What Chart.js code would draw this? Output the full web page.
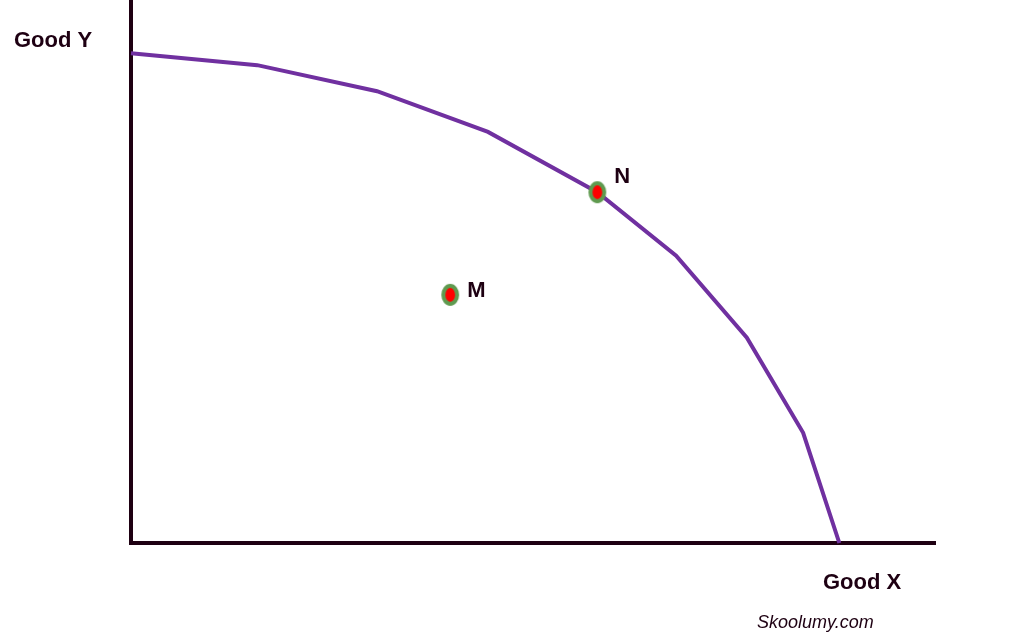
<!DOCTYPE html>
<html>
<head>
<meta charset="utf-8">
<script src="https://cdn.jsdelivr.net/npm/chart.js@4/dist/chart.umd.min.js"></script>
<style>
  html, body { margin: 0; padding: 0; background: #ffffff; }
  #wrap { width: 1024px; height: 644px; position: relative; }
</style>
</head>
<body>
<div id="wrap"><canvas id="c" width="1024" height="644"></canvas></div>
<script>
// Production possibility frontier (Good X quantity vs Good Y quantity)
const frontierX = [0, 15.7, 30.6, 44.4, 58.0, 67.8, 76.6, 83.6, 88.1];
const frontierY = [90.2, 88.0, 83.2, 75.7, 64.6, 52.9, 37.8, 20.3, 0];
const pointNames = ['M', 'N'];
const pointX = [39.7, 58.0];
const pointY = [45.7, 64.6];
const xAxisLabel = 'Good X';
const yAxisLabel = 'Good Y';
const credit = 'Skoolumy.com';

const AXIS_COLOR = '#1e0012';
const TEXT_COLOR = '#1e0012';

// ellipse marker
function makeMarker() {
  const c = document.createElement('canvas');
  c.width = 20; c.height = 24;
  const g = c.getContext('2d');
  g.beginPath();
  g.ellipse(10, 12, 6.9, 8.9, 0, 0, Math.PI * 2);
  g.fillStyle = '#ff0000';
  g.fill();
  g.lineWidth = 4;
  g.strokeStyle = '#5f9a4f';
  g.stroke();
  return c;
}

const labelPlugin = {
  id: 'labels',
  afterDatasetsDraw(chart) {
    const ctx = chart.ctx;
    const xs = chart.scales.x, ys = chart.scales.y;
    ctx.save();
    ctx.fillStyle = TEXT_COLOR;
    ctx.textBaseline = 'middle';
    ctx.textAlign = 'left';
    ctx.font = 'bold 22px "Liberation Sans", Arial, sans-serif';
    const offs = [[17, -4], [17, -15]];
    pointNames.forEach((n, i) => {
      const px = xs.getPixelForValue(pointX[i]);
      const py = ys.getPixelForValue(pointY[i]);
      ctx.fillText(n, px + offs[i][0], py + offs[i][1]);
    });
    // axis names
    ctx.fillText(yAxisLabel, 14, 41);
    ctx.fillText(xAxisLabel, xs.right - 112, ys.bottom + 40);
    ctx.font = 'italic 18px "Liberation Sans", Arial, sans-serif';
    ctx.fillText(credit, 757, 623);
    ctx.restore();
  }
};

new Chart(document.getElementById('c'), {
  type: 'scatter',
  data: {
    datasets: [
      {
        label: 'Points',
        data: pointX.map((x, i) => ({ x: x, y: pointY[i] })),
        pointStyle: makeMarker(),
        pointRadius: 10,
        showLine: false,
        clip: false,
        order: 0
      },
      {
        label: 'PPF',
        data: frontierX.map((x, i) => ({ x: x, y: frontierY[i] })),
        showLine: true,
        borderColor: '#7030a0',
        borderWidth: 4,
        pointRadius: 0,
        tension: 0,
        fill: false,
        clip: false,
        order: 1
      }
    ]
  },
  options: {
    responsive: false,
    animation: false,
    layout: { autoPadding: false, padding: { left: 131, right: 89, top: 0, bottom: 101 } },
    plugins: { legend: { display: false }, tooltip: { enabled: false } },
    scales: {
      x: {
        type: 'linear', min: 0, max: 100,
        ticks: { display: false },
        grid: { display: false, drawTicks: false },
        border: { display: true, color: AXIS_COLOR, width: 4 },
        afterFit: s => { s.height = 0; }
      },
      y: {
        type: 'linear', min: 0, max: 100,
        ticks: { display: false },
        grid: { display: false, drawTicks: false },
        border: { display: true, color: AXIS_COLOR, width: 4 },
        afterFit: s => { s.width = 0; }
      }
    }
  },
  plugins: [labelPlugin]
});
</script>
</body>
</html>
